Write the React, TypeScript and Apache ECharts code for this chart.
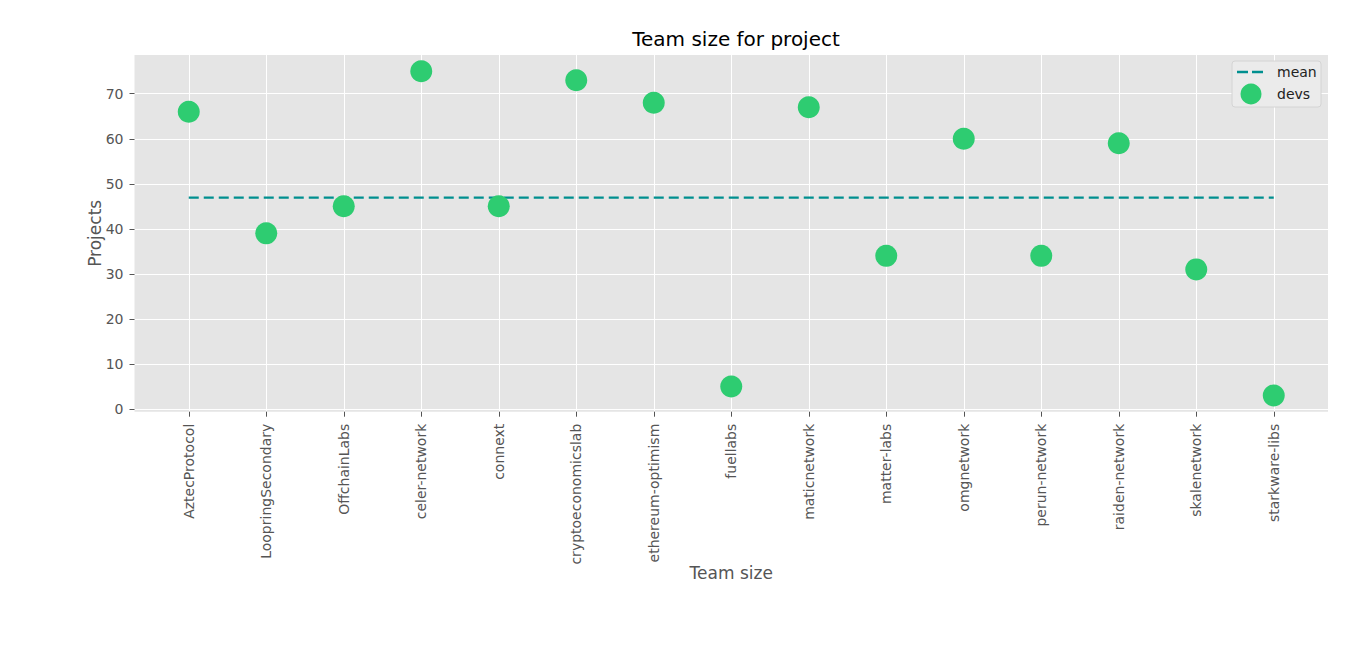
import React, { useEffect, useRef } from "react";
import * as echarts from "echarts";

const categories = [
  "AztecProtocol",
  "LoopringSecondary",
  "OffchainLabs",
  "celer-network",
  "connext",
  "cryptoeconomicslab",
  "ethereum-optimism",
  "fuellabs",
  "maticnetwork",
  "matter-labs",
  "omgnetwork",
  "perun-network",
  "raiden-network",
  "skalenetwork",
  "starkware-libs",
];
const devs = [66, 39, 45, 75, 45, 73, 68, 5, 67, 34, 60, 34, 59, 31, 3];
const meanValue = 46.93;
const yTicks = [0, 10, 20, 30, 40, 50, 60, 70];
const legendItems = ["mean", "devs"];

const MEAN_COLOR = "#008F8F";
const DEV_COLOR = "#2ECC71";

export default function App() {
  const ref = useRef<HTMLDivElement>(null);
  useEffect(() => {
    if (!ref.current) return;
    const chart = echarts.init(ref.current, undefined, { renderer: "svg" });
    const xIdx = categories.map((_, i) => i);
    const font = "DejaVu Sans";
    chart.setOption({
      animation: false,
      title: {
        text: "Team size for project",
        left: 731,
        textAlign: "center",
        top: 24,
        textStyle: { fontFamily: font, fontSize: 20, fontWeight: "normal", color: "#000" },
      },
      legend: { show: false },
      graphic: [
        {
          type: "rect",
          shape: { x: 1232, y: 61, width: 89, height: 46, r: 3 },
          style: { fill: "#EBEBEB", stroke: "#D4D4D4", lineWidth: 1 },
          z: 100,
        },
        {
          type: "line",
          shape: { x1: 1237, y1: 72, x2: 1248, y2: 72 },
          style: { stroke: MEAN_COLOR, lineWidth: 2.5 },
          z: 101,
        },
        {
          type: "line",
          shape: { x1: 1252, y1: 72, x2: 1263, y2: 72 },
          style: { stroke: MEAN_COLOR, lineWidth: 2.5 },
          z: 101,
        },
        {
          type: "circle",
          shape: { cx: 1251, cy: 94, r: 10.5 },
          style: { fill: DEV_COLOR },
          z: 101,
        },
        {
          type: "text",
          x: 1277,
          y: 72,
          style: {
            text: legendItems[0],
            fontFamily: font,
            fontSize: 14,
            fill: "#222",
            verticalAlign: "middle",
          },
          z: 101,
        },
        {
          type: "text",
          x: 1277,
          y: 94,
          style: {
            text: legendItems[1],
            fontFamily: font,
            fontSize: 14,
            fill: "#222",
            verticalAlign: "middle",
          },
          z: 101,
        },
      ],
      grid: {
        left: 134.5,
        right: 32,
        top: 55,
        bottom: 259.3,
        show: true,
        backgroundColor: "#E5E5E5",
        borderWidth: 0,
      },
      xAxis: {
        type: "value",
        min: -0.7,
        max: 14.7,
        name: "Team size",
        nameLocation: "middle",
        nameGap: 153,
        nameMoveOverlap: false,
        nameTextStyle: { fontFamily: font, fontSize: 17, color: "#555" },
        axisLine: { show: false, onZero: false },
        axisTick: {
          show: true,
          length: 5,
          lineStyle: { color: "#555" },
          customValues: xIdx,
        },
        axisLabel: {
          customValues: xIdx,
          rotate: 90,
          margin: 12,
          fontFamily: font,
          fontSize: 14,
          color: "#555",
          formatter: (v: number) => categories[Math.round(v)] ?? "",
        },
        splitLine: { show: true, lineStyle: { color: "#FFFFFF", width: 1 } },
      },
      yAxis: {
        type: "value",
        min: -0.6,
        max: 78.6,
        name: "Projects",
        nameLocation: "middle",
        nameGap: 31,
        nameMoveOverlap: false,
        nameRotate: 90,
        nameTextStyle: { fontFamily: font, fontSize: 17, color: "#555" },
        axisLine: { show: false, onZero: false },
        axisTick: {
          show: true,
          length: 5,
          lineStyle: { color: "#555" },
          customValues: yTicks,
        },
        axisLabel: {
          customValues: yTicks,
          margin: 11,
          fontFamily: font,
          fontSize: 14,
          color: "#555",
        },
        splitLine: { show: true, lineStyle: { color: "#FFFFFF", width: 1 } },
      },
      series: [
        {
          name: "mean",
          type: "line",
          symbol: "none",
          data: [
            [0, meanValue],
            [categories.length - 1, meanValue],
          ],
          lineStyle: { color: MEAN_COLOR, width: 2.4, type: [10, 5] },
          itemStyle: { color: MEAN_COLOR },
          z: 3,
        },
        {
          name: "devs",
          type: "scatter",
          symbol: "circle",
          symbolSize: 22,
          data: devs.map((v, i) => [i, v]),
          itemStyle: { color: DEV_COLOR, opacity: 1 },
          z: 4,
        },
      ],
    });
    return () => chart.dispose();
  }, []);
  return (
    <div
      ref={ref}
      style={{ position: "fixed", left: 0, top: 0, width: 1360, height: 671, background: "#fff" }}
    />
  );
}
